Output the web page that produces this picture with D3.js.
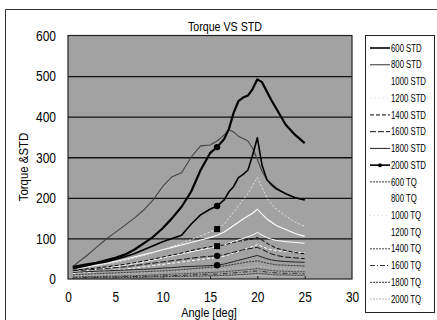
<!DOCTYPE html>
<html>
<head>
<meta charset="utf-8">
<script src="https://cdn.jsdelivr.net/npm/d3@7"></script>
<style>
  body { margin: 0; background: #fff; }
  svg { display: block; }
  text { font-family: "Liberation Sans", Arial, sans-serif; fill: #000; }
</style>
</head>
<body>
<div id="chart"></div>
<script>
// angle [deg] shared by every series
const angles = [0.5, 1, 2, 3, 4, 5, 6, 7, 8, 9, 10, 11, 12, 13, 14, 15, 15.75, 16.5, 17, 17.5, 18, 18.5, 19, 19.5, 20, 20.5, 21, 21.5, 22, 23, 24, 25];

const std600  = [30, 32, 36, 40, 46, 52, 60, 72, 88, 104, 125, 150, 178, 215, 268, 310, 325, 345, 370, 410, 438, 447, 452, 468, 492, 485, 462, 440, 420, 380, 355, 335];
const std800  = [30, 40, 58, 78, 98, 115, 132, 150, 170, 195, 228, 252, 262, 300, 328, 330, 340, 355, 368, 362, 352, 346, 340, 322, 295, 265, 245, 235, 225, 210, 200, 195];
const std1000 = [24, 26, 30, 34, 38, 43, 48, 54, 60, 66, 72, 78, 84, 90, 96, 102, 108, 116, 124, 132, 140, 148, 155, 162, 172, 160, 148, 140, 132, 122, 112, 105];
const std1200 = [24, 26, 29, 33, 37, 41, 46, 52, 58, 65, 72, 80, 88, 97, 106, 116, 123, 135, 150, 165, 180, 195, 210, 230, 250, 225, 200, 185, 172, 155, 140, 130];
const std1400 = [22, 23, 25, 27, 30, 33, 36, 40, 44, 49, 54, 59, 64, 70, 75, 79, 81, 84, 87, 90, 93, 95, 97, 99, 102, 96, 88, 82, 76, 70, 65, 62];
const std1600 = [20, 21, 22, 24, 26, 28, 30, 33, 36, 39, 42, 45, 48, 51, 54, 56, 57, 60, 63, 66, 69, 72, 74, 76, 78, 73, 67, 62, 58, 54, 52, 50];
const std1800 = [16, 17, 18, 19, 20, 21, 22, 23, 24, 25, 27, 28, 30, 31, 32, 33, 34, 37, 40, 43, 46, 49, 52, 55, 58, 54, 50, 47, 45, 43, 42, 41];
const std2000 = [25, 28, 33, 38, 42, 48, 55, 62, 72, 82, 92, 100, 108, 135, 158, 172, 180, 195, 215, 228, 250, 258, 268, 305, 348, 280, 245, 232, 222, 210, 200, 195];
const tq600  = [10, 11, 12, 13, 14, 15, 16, 17, 18, 19, 20, 21, 23, 25, 27, 29, 30, 32, 34, 36, 38, 40, 42, 43, 45, 42, 39, 37, 35, 34, 33, 32];
const tq800  = [18, 19, 21, 24, 27, 30, 34, 38, 42, 47, 52, 57, 62, 67, 72, 77, 80, 84, 88, 92, 96, 100, 104, 108, 115, 108, 102, 98, 95, 92, 90, 88];
const tq1000 = [8, 8, 9, 10, 11, 12, 13, 14, 15, 16, 17, 18, 19, 20, 21, 22, 23, 24, 25, 26, 27, 28, 29, 30, 32, 30, 28, 27, 26, 25, 24, 24];
const tq1200 = [14, 15, 16, 18, 20, 22, 24, 27, 30, 33, 36, 39, 42, 45, 48, 51, 53, 56, 60, 64, 68, 72, 76, 80, 85, 80, 75, 72, 70, 68, 66, 65];
const tq1400 = [5, 5, 6, 6, 7, 7, 8, 8, 9, 10, 11, 12, 13, 14, 15, 16, 17, 18, 19, 20, 21, 22, 23, 24, 26, 24, 22, 21, 20, 19, 18, 18];
const tq1600 = [3, 3, 4, 4, 5, 5, 6, 6, 7, 7, 8, 8, 9, 10, 11, 12, 12, 13, 14, 15, 16, 17, 18, 19, 20, 19, 17, 16, 15, 14, 14, 13];
const tq1800 = [2, 2, 2, 3, 3, 3, 4, 4, 4, 5, 5, 6, 6, 7, 7, 8, 8, 9, 9, 10, 11, 11, 12, 13, 14, 13, 12, 11, 10, 10, 9, 9];
const tq2000 = [1, 1, 1, 2, 2, 2, 2, 3, 3, 3, 3, 4, 4, 4, 5, 5, 5, 6, 6, 6, 7, 7, 8, 8, 9, 8, 8, 7, 7, 6, 6, 6];

const seriesNames = ['600 STD', '800 STD', '1000 STD', '1200 STD', '1400 STD', '1600 STD', '1800 STD', '2000 STD',
  '600 TQ', '800 TQ', '1000 TQ', '1200 TQ', '1400 TQ', '1600 TQ', '1800 TQ', '2000 TQ'];
const seriesValues = [std600, std800, std1000, std1200, std1400, std1600, std1800, std2000,
  tq600, tq800, tq1000, tq1200, tq1400, tq1600, tq1800, tq2000];

// single marked point seen on several curves
const markerAngle = 15.75;
const markerSeries = ['600 STD', '2000 STD', '1200 STD', '1400 STD', '1600 STD', '1800 STD'];
const markerShapes = ['circle', 'circle', 'square', 'square', 'circle', 'circle'];

const xTicks = [0, 5, 10, 15, 20, 25, 30];
const yTicks = [0, 100, 200, 300, 400, 500, 600];

// line look per series, same order as seriesNames
const styles = [
  { color: '#000', width: 2.2, dash: null },
  { color: '#444', width: 1.1, dash: null },
  { color: '#fff', width: 1.1, dash: null },
  { color: '#e6e6e6', width: 1, dash: '2,2' },
  { color: '#000', width: 1, dash: '4,2' },
  { color: '#111', width: 1, dash: '6,2' },
  { color: '#222', width: 1, dash: null },
  { color: '#000', width: 1.6, dash: null },
  { color: '#333', width: 1, dash: '2,1' },
  { color: '#fff', width: 1, dash: null },
  { color: '#d0d0d0', width: 1, dash: '1,3' },
  { color: '#fff', width: 1, dash: '3,2' },
  { color: '#444', width: 1, dash: '2,1' },
  { color: '#333', width: 1, dash: '5,2,1,2' },
  { color: '#333', width: 1, dash: '2,1' },
  { color: '#bbb', width: 1, dash: '2,1' }
];

// squeeze text horizontally, the scan uses a narrow face
function condense(sel, factor) {
  sel.each(function () {
    const w = this.getComputedTextLength();
    d3.select(this)
      .attr('textLength', w * factor)
      .attr('lengthAdjust', 'spacingAndGlyphs');
  });
}

const W = 437, H = 320;
const margin = { top: 35.5, right: 85, bottom: 41, left: 68 };
const width = W - margin.left - margin.right;
const height = H - margin.top - margin.bottom;

const svg = d3.select('#chart').append('svg')
  .attr('width', W)
  .attr('height', H);

// outer frame (only left and top edges are visible in the picture)
svg.append('path')
  .attr('d', `M5.5,${H} V9.5 H${W}`)
  .attr('fill', 'none')
  .attr('stroke', '#333')
  .attr('stroke-width', 1);

const g = svg.append('g')
  .attr('transform', `translate(${margin.left},${margin.top})`);

const x = d3.scaleLinear().domain([0, 30]).range([0, width]);
const y = d3.scaleLinear().domain([0, 600]).range([height, 0]);

// plot area
g.append('rect')
  .attr('width', width)
  .attr('height', height)
  .attr('fill', '#a2a2a2');

// gridlines
g.append('g')
  .call(d3.axisLeft(y).tickValues(yTicks.slice(1, -1)).tickSize(-width).tickFormat(''))
  .call(a => a.select('.domain').remove())
  .selectAll('line')
  .attr('stroke', '#111')
  .attr('stroke-width', 1.4);

// small inside ticks on the bottom
g.append('g')
  .attr('transform', `translate(0,${height})`)
  .call(d3.axisTop(x).tickValues(xTicks.slice(1, -1)).tickSize(3).tickFormat(''))
  .call(a => a.select('.domain').remove())
  .selectAll('line')
  .attr('stroke', '#222');

// curves
const line = d3.line()
  .x((d, i) => x(angles[i]))
  .y(d => y(d));

const drawOrder = [15, 14, 13, 12, 10, 11, 9, 8, 6, 5, 4, 2, 3, 1, 7, 0];
drawOrder.forEach(k => {
  const st = styles[k];
  g.append('path')
    .datum(seriesValues[k])
    .attr('d', line)
    .attr('fill', 'none')
    .attr('stroke', st.color)
    .attr('stroke-width', st.width)
    .attr('stroke-dasharray', st.dash)
    .attr('stroke-linejoin', 'round');
});

// markers
const mi = angles.indexOf(markerAngle);
markerSeries.forEach((name, j) => {
  const v = seriesValues[seriesNames.indexOf(name)][mi];
  if (markerShapes[j] === 'square') {
    g.append('rect')
      .attr('x', x(markerAngle) - 3)
      .attr('y', y(v) - 3)
      .attr('width', 6)
      .attr('height', 6)
      .attr('fill', '#000');
  } else {
    g.append('circle')
      .attr('cx', x(markerAngle))
      .attr('cy', y(v))
      .attr('r', 3.2)
      .attr('fill', '#000');
  }
});

// plot border
g.append('rect')
  .attr('width', width)
  .attr('height', height)
  .attr('fill', 'none')
  .attr('stroke', '#222')
  .attr('stroke-width', 1.2);

// Y axis labels
g.append('g')
  .call(d3.axisLeft(y).tickValues(yTicks).tickSize(0).tickPadding(12))
  .call(a => a.select('.domain').remove())
  .selectAll('text')
  .attr('font-family', null)
  .style('font-size', '15px')
  .call(condense, 0.8);

// X axis labels
g.append('g')
  .attr('transform', `translate(0,${height})`)
  .call(d3.axisBottom(x).tickValues(xTicks).tickSize(0).tickPadding(13))
  .call(a => a.select('.domain').remove())
  .selectAll('text')
  .attr('font-family', null)
  .style('font-size', '14px')
  .call(condense, 0.85);

// title
svg.append('text')
  .attr('x', 225)
  .attr('y', 31)
  .attr('text-anchor', 'middle')
  .style('font-size', '13px')
  .text('Torque VS STD')
  .call(condense, 0.82);

// axis titles
svg.append('text')
  .attr('transform', 'translate(28,167) rotate(-90)')
  .attr('text-anchor', 'middle')
  .style('font-size', '13px')
  .text('Torque &STD')
  .call(condense, 0.88);

svg.append('text')
  .attr('x', 209)
  .attr('y', 317)
  .attr('text-anchor', 'middle')
  .style('font-size', '12.5px')
  .text('Angle [deg]')
  .call(condense, 0.88);

// legend
const legend = svg.append('g');
legend.append('rect')
  .attr('x', 365.5)
  .attr('y', 35.5)
  .attr('width', 69)
  .attr('height', 277)
  .attr('fill', '#fff')
  .attr('stroke', '#222');

const ly = d3.scaleLinear().domain([0, seriesNames.length - 1]).range([48, 299]);
seriesNames.forEach((name, i) => {
  const st = styles[i];
  legend.append('line')
    .attr('x1', 370).attr('x2', 390)
    .attr('y1', ly(i)).attr('y2', ly(i))
    .attr('stroke', st.color === '#fff' ? 'none' : st.color)
    .attr('stroke-width', Math.min(st.width, 1.6))
    .attr('stroke-dasharray', st.dash);
  legend.append('text')
    .attr('x', 391)
    .attr('y', ly(i))
    .attr('dy', '0.35em')
    .style('font-size', '10.5px')
    .text(name)
    .call(condense, 0.74);
});
legend.append('circle')
  .attr('cx', 380).attr('cy', ly(7)).attr('r', 2).attr('fill', '#000');
</script>
</body>
</html>
